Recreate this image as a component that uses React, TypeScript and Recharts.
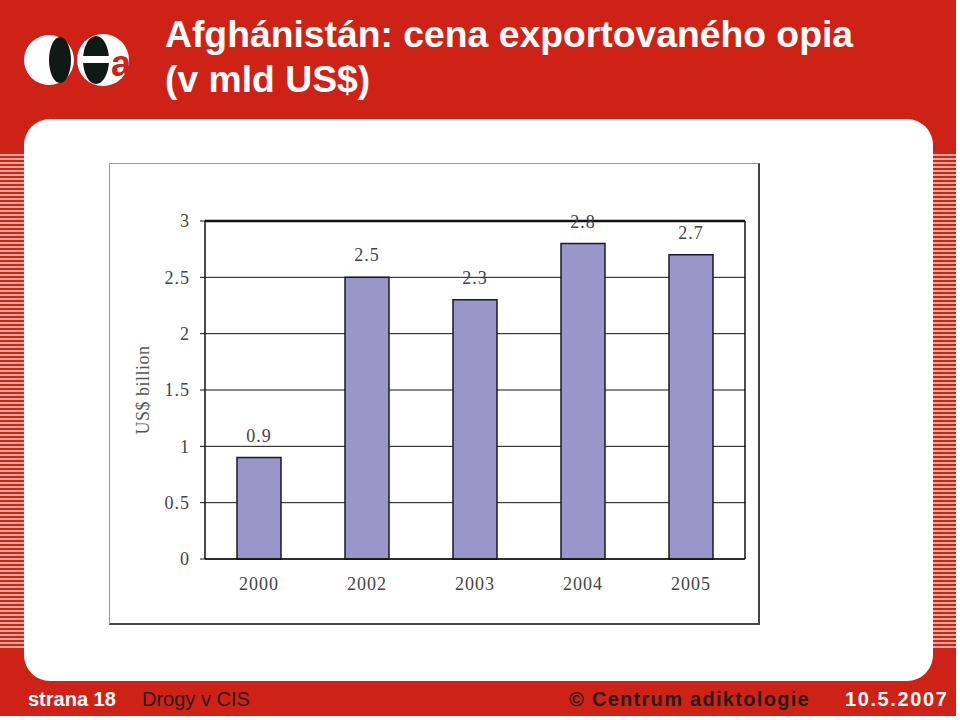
import {
    BarChart,
    Bar,
    XAxis,
    YAxis,
    CartesianGrid,
    LabelList,
    ReferenceLine,
} from 'recharts'

const years = ['2000', '2002', '2003', '2004', '2005']
const values = [0.9, 2.5, 2.3, 2.8, 2.7]
const yTicks = [0, 0.5, 1, 1.5, 2, 2.5, 3]
const edgeTicks = [0, 1, 2, 3, 4, 5]

const RED = '#cf2216'
const SERIF = '"Liberation Serif", "Times New Roman", serif'
const SANS = '"Liberation Sans", Arial, sans-serif'
const STRIPES = 'repeating-linear-gradient(to bottom, #c9261b 0px, #c9261b 2px, #f4a797 2px, #f4a797 4px)'

const tickFont = { fill: '#444', fontFamily: SERIF, fontSize: 18, letterSpacing: 1 }

function Logo() {
    return (
        <svg width={112} height={62} style={{ position: 'absolute', left: 22, top: 29 }}>
            <circle cx={27} cy={31} r={25} fill="#fff" />
            <ellipse cx={38} cy={31} rx={11} ry={23} fill="#0f1a17" />
            <circle cx={81} cy={31} r={26} fill="#fff" />
            <ellipse cx={74} cy={31} rx={13} ry={24} fill="#0f1a17" />
            <rect x={58} y={27} width={42} height={7} fill="#fff" />
            <text x={89} y={47} fill={RED} fontFamily={SANS} fontWeight="bold" fontSize={36}>a</text>
        </svg>
    )
}

function YLabel(props: any) {
    const vb = props.viewBox
    const cx = 34
    const cy = vb.y + vb.height / 2
    return (
        <text
            x={cx}
            y={cy}
            transform={`rotate(-90 ${cx} ${cy})`}
            textAnchor="middle"
            dominantBaseline="central"
            fill="#555"
            fontFamily={SERIF}
            fontSize={18}
            letterSpacing={0.5}
        >
            US$ billion
        </text>
    )
}

export default function App() {
    const data = years.map((year, i) => ({ year, value: values[i] }))

    return (
        <div style={{ position: 'absolute', left: 0, top: 0, width: 960, height: 720, background: '#fff', overflow: 'hidden' }}>
            <div style={{ position: 'absolute', left: 0, top: 0, width: 956, height: 716, background: RED }} />
            <div style={{ position: 'absolute', left: 0, top: 152, width: 24, height: 498, background: STRIPES }} />
            <div style={{ position: 'absolute', left: 933, top: 152, width: 23, height: 498, background: STRIPES }} />
            <div style={{ position: 'absolute', left: 24, top: 119, width: 909, height: 562, background: '#fff', borderRadius: 26 }} />

            <Logo />
            <div style={{ position: 'absolute', left: 165, top: 12, color: '#fff', fontFamily: SANS, fontWeight: 'bold', fontSize: 37.3, lineHeight: '45px', whiteSpace: 'nowrap' }}>
                Afghánistán: cena exportovaného opia<br />(v mld US$)
            </div>

            <div style={{ position: 'absolute', left: 109, top: 163, width: 648, height: 459, borderLeft: '1px solid #999', borderTop: '1px solid #999', borderRight: '2px solid #444', borderBottom: '2px solid #444' }} />

            <div style={{ position: 'absolute', left: 109, top: 163 }}>
                <BarChart
                    width={650}
                    height={462}
                    data={data}
                    margin={{ top: 58, right: 13, left: 0, bottom: 25 }}
                >
                    <CartesianGrid horizontal vertical={false} stroke="#111" strokeWidth={1} yAxisId="y" xAxisId="b" />
                    <XAxis xAxisId="a" type="number" domain={[0, 5]} ticks={edgeTicks} height={1} tick={false}
                        axisLine={{ stroke: '#111', strokeWidth: 1.5 }} tickLine={{ stroke: '#111', strokeWidth: 1.5 }} tickSize={6} />
                    <XAxis xAxisId="b" dataKey="year" height={40} axisLine={false} tickLine={false} tickMargin={11}
                        tick={tickFont} />
                    <YAxis yAxisId="y" domain={[0, 3]} ticks={yTicks} width={96} interval={0}
                        axisLine={{ stroke: '#111', strokeWidth: 1.5 }} tickLine={{ stroke: '#111' }} tickSize={5} tickMargin={10}
                        tick={tickFont}
                        label={<YLabel />} />
                    <YAxis yAxisId="z" orientation="right" domain={[0, 3]} width={1} tick={false} tickLine={false}
                        axisLine={{ stroke: '#111', strokeWidth: 1.5 }} />
                    <ReferenceLine yAxisId="y" xAxisId="b" y={3} stroke="#111" strokeWidth={2.5} />
                    <Bar yAxisId="y" xAxisId="b" dataKey="value" barSize={44} fill="#9b96c9" stroke="#1a1a2a" strokeWidth={1.5} isAnimationActive={false}>
                        <LabelList dataKey="value" position="top" offset={16} fill="#444" fontFamily={SERIF} fontSize={18} letterSpacing={1} />
                    </Bar>
                </BarChart>
            </div>

            <div style={{ position: 'absolute', left: 28, top: 688, color: '#fff', fontFamily: SANS, fontWeight: 'bold', fontSize: 20, whiteSpace: 'nowrap' }}>strana 18</div>
            <div style={{ position: 'absolute', left: 142, top: 688, color: '#2a1c1c', fontFamily: SANS, fontSize: 20, whiteSpace: 'nowrap' }}>Drogy v CIS</div>
            <div style={{ position: 'absolute', left: 569, top: 688, color: '#2a1c1c', fontFamily: SANS, fontWeight: 'bold', fontSize: 20, letterSpacing: 1.3, whiteSpace: 'nowrap' }}>© Centrum adiktologie</div>
            <div style={{ position: 'absolute', left: 845, top: 688, color: '#fff', fontFamily: SANS, fontWeight: 'bold', fontSize: 20, letterSpacing: 1.6, whiteSpace: 'nowrap' }}>10.5.2007</div>
        </div>
    )
}
